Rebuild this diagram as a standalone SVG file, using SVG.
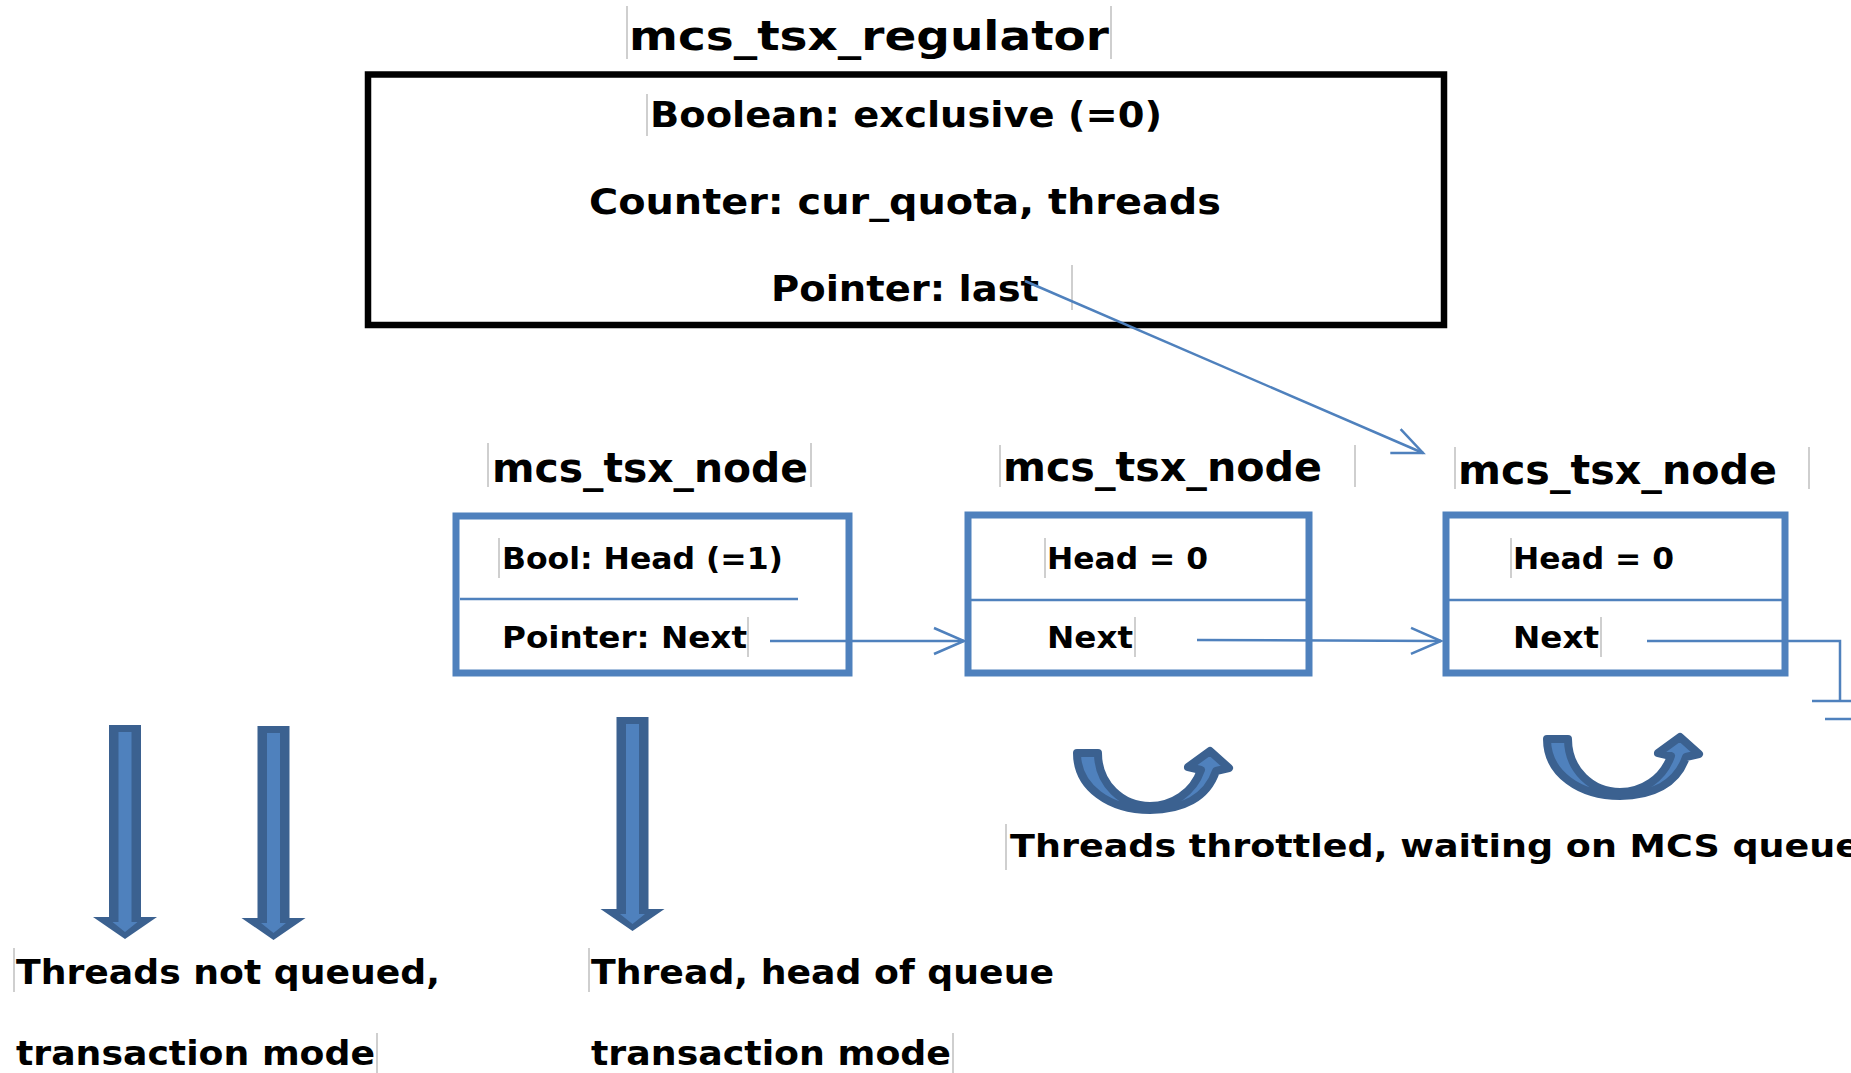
<svg xmlns="http://www.w3.org/2000/svg" width="1851" height="1073" viewBox="0 0 1851 1073">
<style>
  text { font-family: "DejaVu Sans", "Liberation Sans", sans-serif; font-weight: bold; fill: #000; }
  .t37 { font-size: 40px; }
  .t34 { font-size: 36px; }
  .t31 { font-size: 33px; }
  .t30 { font-size: 32px; }
  .t29 { font-size: 31px; }
  .cur { stroke: #BFBFBF; stroke-width: 1.5; }
  .node { fill: #FFFFFF; stroke: #4F81BD; stroke-width: 7; }
  .div { stroke: #4F81BD; stroke-width: 2.5; }
  .conn { fill: none; stroke: #4F81BD; stroke-width: 2.5; }
  .bo { fill: #3B6190; }
  .bi { fill: #4F81BD; }
  .curve { fill: #4F81BD; stroke: #3B6190; stroke-width: 8; stroke-linejoin: round; }
</style>
<defs>
  <marker id="open" markerUnits="userSpaceOnUse" markerWidth="40" markerHeight="40" refX="36" refY="20" orient="auto" overflow="visible">
    <path d="M6,7 L36,20 L6,33" fill="none" stroke="#4F81BD" stroke-width="2.5"/>
  </marker>
  <g id="blockArrow">
    <path class="bo" d="M-16,0 H16 V192 H32 L0,214 L-32,192 H-16 Z"/>
    <path class="bi" d="M-6.5,7 H6.5 V197 H12.5 L0,207 L-12.5,197 H-6.5 Z"/>
  </g>
  <path id="uturn" class="curve" d="M1077,753 L1098,753 C1098,784 1122,806 1150,806 C1172,806 1193,793 1201,770 L1188,767 L1210,751 L1229,768 L1216,771 C1207,798 1182,810 1150,810 C1110,810 1077,788 1077,753 Z"/>
</defs>
<rect width="1851" height="1073" fill="#FFFFFF"/>

<g id="regulator">
  <rect x="368" y="74.5" width="1076" height="250.5" fill="#FFFFFF" stroke="#000" stroke-width="6.5"/>
  <line class="cur" x1="627" y1="6" x2="627" y2="59"/>
  <line class="cur" x1="1111" y1="6" x2="1111" y2="59"/>
  <text class="t37" x="629" y="50" textLength="480" lengthAdjust="spacingAndGlyphs">mcs_tsx_regulator</text>
  <line class="cur" x1="647" y1="94" x2="647" y2="136"/>
  <text class="t34" x="650" y="127" textLength="512" lengthAdjust="spacingAndGlyphs">Boolean: exclusive (=0)</text>
  <text class="t34" x="589" y="214" textLength="632" lengthAdjust="spacingAndGlyphs">Counter: cur_quota, threads</text>
  <text class="t34" x="771" y="301" textLength="268" lengthAdjust="spacingAndGlyphs">Pointer: last</text>
  <line class="cur" x1="1072" y1="265" x2="1072" y2="310"/>
</g>

<g id="node1">
  <line class="cur" x1="488" y1="443" x2="488" y2="487"/>
  <line class="cur" x1="811" y1="443" x2="811" y2="487"/>
  <text class="t37" x="492" y="482" textLength="316" lengthAdjust="spacingAndGlyphs">mcs_tsx_node</text>
  <rect class="node" x="456" y="516" width="393" height="157"/>
  <line class="div" x1="460" y1="599" x2="798" y2="599"/>
  <line class="cur" x1="499" y1="538" x2="499" y2="578"/>
  <text class="t29" x="502" y="569" textLength="281" lengthAdjust="spacingAndGlyphs">Bool: Head (=1)</text>
  <text class="t29" x="502" y="648" textLength="245" lengthAdjust="spacingAndGlyphs">Pointer: Next</text>
  <line class="cur" x1="748" y1="617" x2="748" y2="657"/>
</g>

<g id="node2">
  <line class="cur" x1="1000" y1="445" x2="1000" y2="487"/>
  <line class="cur" x1="1355" y1="445" x2="1355" y2="487"/>
  <text class="t37" x="1003" y="481" textLength="319" lengthAdjust="spacingAndGlyphs">mcs_tsx_node</text>
  <rect class="node" x="968" y="515" width="341" height="158"/>
  <line class="div" x1="971" y1="600" x2="1306" y2="600"/>
  <line class="cur" x1="1045" y1="538" x2="1045" y2="578"/>
  <text class="t29" x="1047" y="569" textLength="161" lengthAdjust="spacingAndGlyphs">Head = 0</text>
  <text class="t29" x="1047" y="648" textLength="86" lengthAdjust="spacingAndGlyphs">Next</text>
  <line class="cur" x1="1135" y1="617" x2="1135" y2="657"/>
</g>

<g id="node3">
  <line class="cur" x1="1455" y1="447" x2="1455" y2="489"/>
  <line class="cur" x1="1809" y1="447" x2="1809" y2="489"/>
  <text class="t37" x="1458" y="484" textLength="319" lengthAdjust="spacingAndGlyphs">mcs_tsx_node</text>
  <rect class="node" x="1446" y="515" width="339" height="158"/>
  <line class="div" x1="1449" y1="600" x2="1782" y2="600"/>
  <line class="cur" x1="1511" y1="538" x2="1511" y2="578"/>
  <text class="t29" x="1513" y="569" textLength="161" lengthAdjust="spacingAndGlyphs">Head = 0</text>
  <text class="t29" x="1513" y="648" textLength="86" lengthAdjust="spacingAndGlyphs">Next</text>
  <line class="cur" x1="1601" y1="617" x2="1601" y2="657"/>
</g>

<g id="not-queued">
  <use href="#blockArrow" transform="translate(125,725)"/>
  <use href="#blockArrow" transform="translate(273.5,726)"/>
  <line class="cur" x1="14" y1="948" x2="14" y2="992"/>
  <text class="t31" x="16" y="984" textLength="424" lengthAdjust="spacingAndGlyphs">Threads not queued,</text>
  <text class="t31" x="16" y="1065" textLength="359" lengthAdjust="spacingAndGlyphs">transaction mode</text>
  <line class="cur" x1="377" y1="1033" x2="377" y2="1073"/>
</g>

<g id="head-thread">
  <use href="#blockArrow" transform="translate(632.5,717)"/>
  <line class="cur" x1="589" y1="948" x2="589" y2="992"/>
  <text class="t31" x="591" y="984" textLength="463" lengthAdjust="spacingAndGlyphs">Thread, head of queue</text>
  <text class="t31" x="591" y="1065" textLength="360" lengthAdjust="spacingAndGlyphs">transaction mode</text>
  <line class="cur" x1="953" y1="1033" x2="953" y2="1073"/>
</g>

<g id="throttled">
  <use href="#uturn"/>
  <use href="#uturn" transform="translate(470,-14)"/>
  <line class="cur" x1="1006" y1="824" x2="1006" y2="870"/>
  <text class="t30" x="1010" y="857" textLength="850" lengthAdjust="spacingAndGlyphs">Threads throttled, waiting on MCS queue</text>
</g>

<g id="connectors">
  <line class="conn" x1="1025" y1="281" x2="1423" y2="453" marker-end="url(#open)"/>
  <line class="conn" x1="770" y1="641" x2="964" y2="641" marker-end="url(#open)"/>
  <line class="conn" x1="1197" y1="640" x2="1441" y2="641" marker-end="url(#open)"/>
  <polyline class="conn" points="1647,641 1840,641 1840,701"/>
  <line class="conn" x1="1812" y1="701" x2="1851" y2="701"/>
  <line class="conn" x1="1825" y1="719" x2="1851" y2="719"/>
</g>
</svg>
